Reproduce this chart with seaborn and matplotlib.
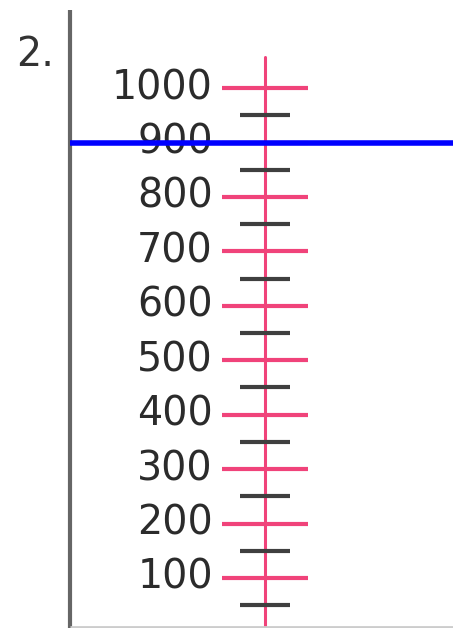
import numpy as np
import pandas as pd
import seaborn as sns
import matplotlib.pyplot as plt

# number line values
major_vals = [100, 200, 300, 400, 500, 600, 700, 800, 900, 1000]
minor_vals = [50, 150, 250, 350, 450, 550, 650, 750, 850, 950]
major_labels = [str(v) for v in major_vals]
marked_val = 900
line_top = 1057
question = "2."

sns.set_theme(style="white")
plt.rcParams['font.family'] = ['DejaVu Sans']

fig = plt.figure(figsize=(4.53, 6.28), dpi=100)
ax = fig.add_axes([0, 0, 1, 1])
ax.set_xlim(0, 453)
ax.set_ylim(8, 1162)
ax.axis('off')

pink = '#f0437a'

# main number line
line_df = pd.DataFrame({'x': [265, 265], 'y': [0, line_top]})
sns.lineplot(data=line_df, x='x', y='y', color=pink, lw=2.2, ax=ax,
             estimator=None, sort=False)

# tick marks
ax.hlines(major_vals, 222, 308, color=pink, lw=3)
ax.hlines(minor_vals, 240, 290, color='#3f3f3f', lw=3)

# labels
for v, lab in zip(major_vals, major_labels):
    ax.text(213, v, lab, ha='right', va='center', fontsize=28.5, color='#2b2b2b')

# frame lines on the left / bottom
ax.vlines(70, 0, 1143, color='#666666', lw=3)
ax.hlines(9, 70, 453, color='#cccccc', lw=2)

# marked value
ax.hlines(marked_val, 70, 453, color='#0000ff', lw=4, zorder=5)

ax.text(16, 1061, question, ha='left', va='center', fontsize=28.5, color='#333333')

fig.savefig('out.png', dpi=100)
